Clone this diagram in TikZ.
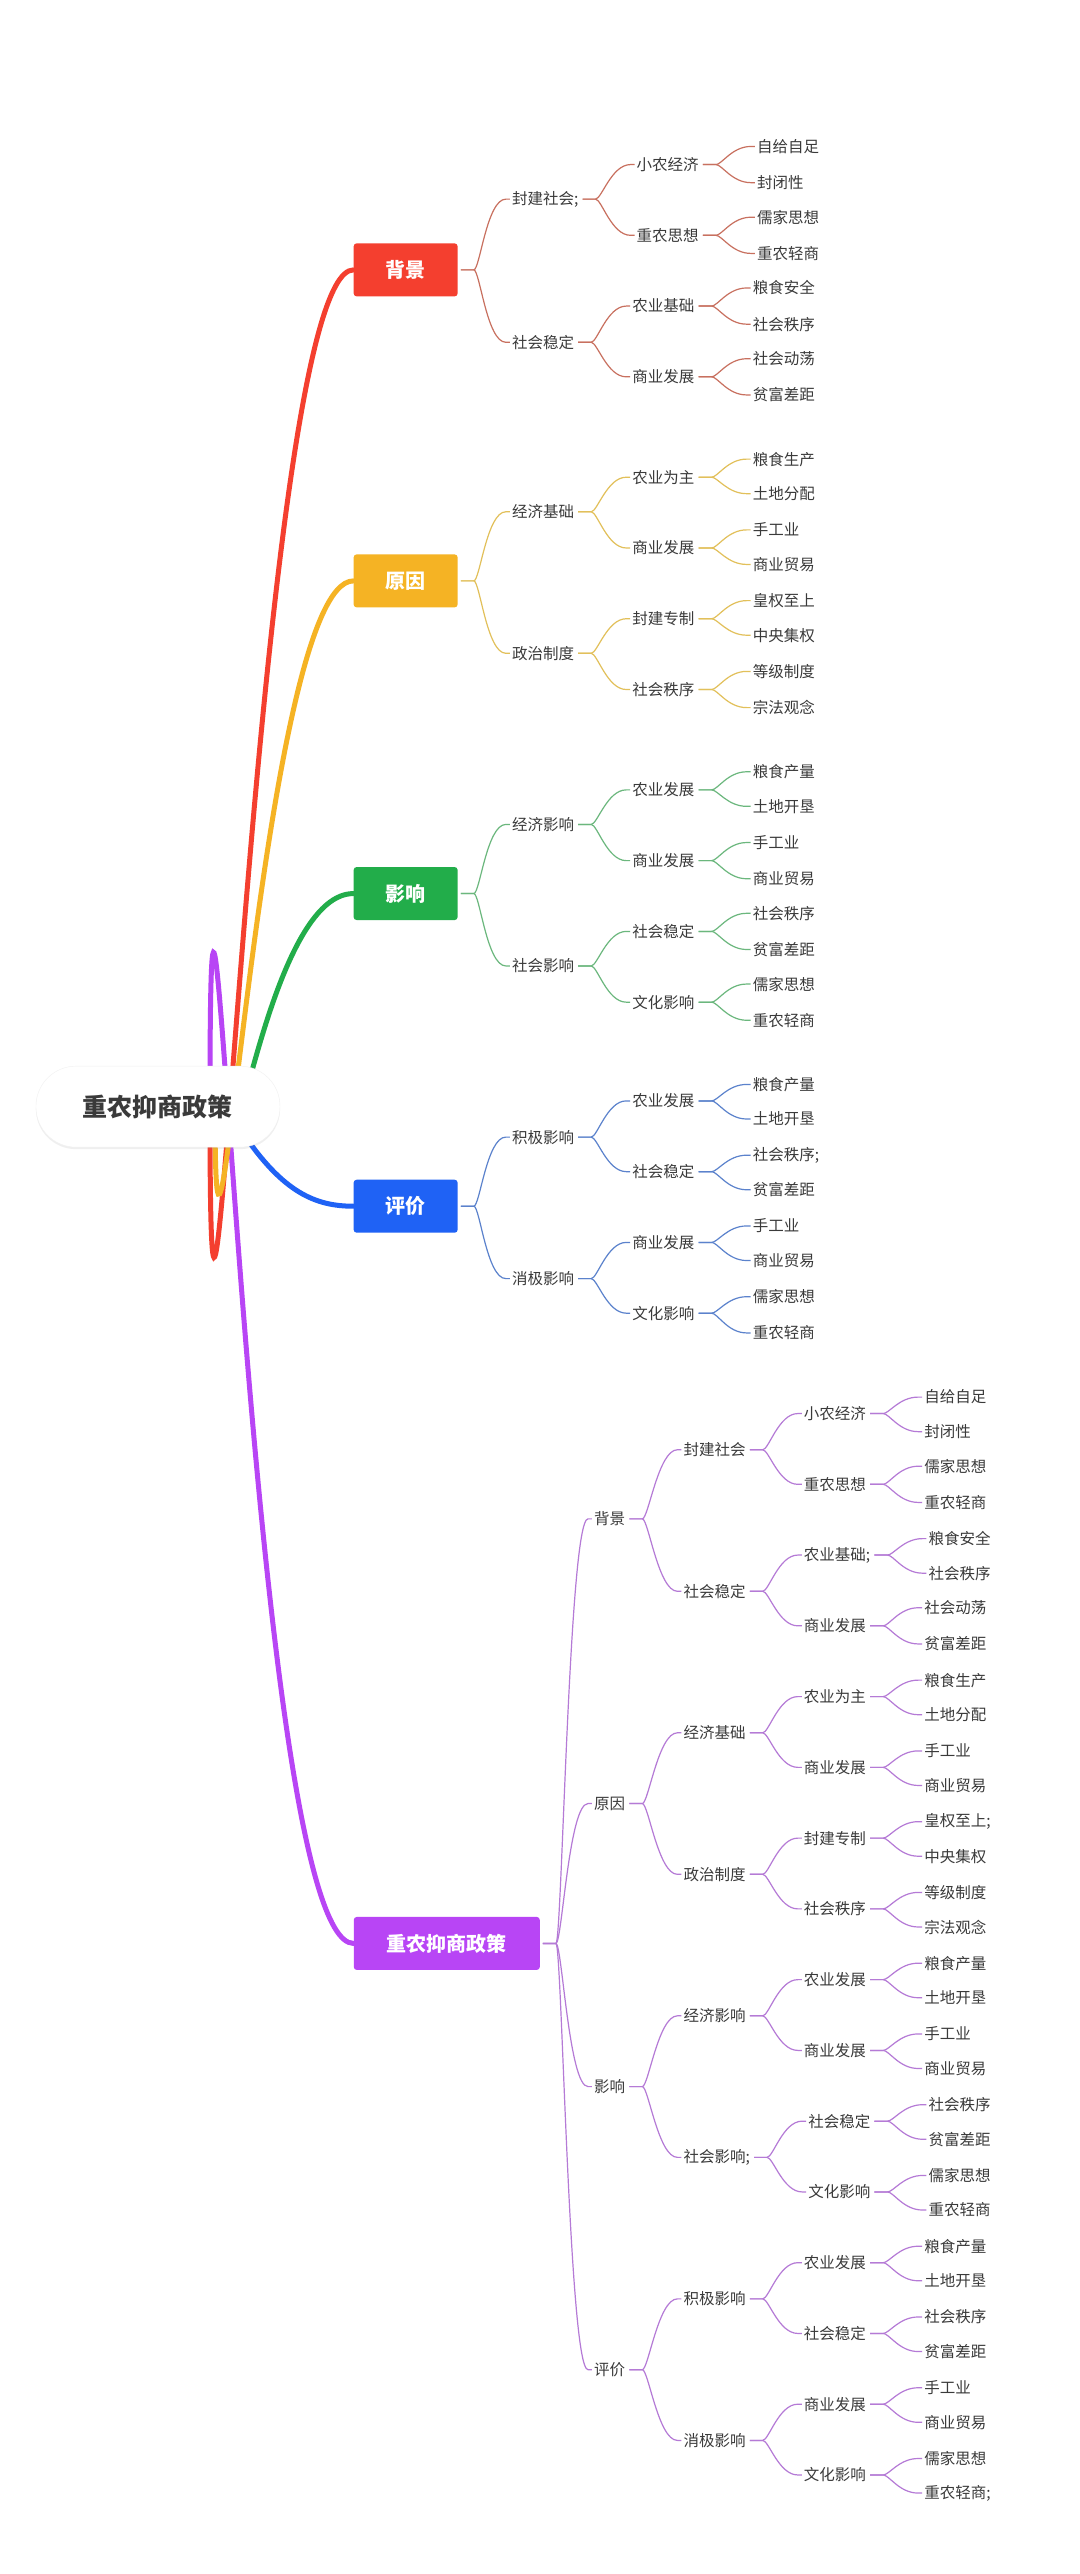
\documentclass[tikz,border=0pt]{standalone}
\usepackage{fontspec}
\setmainfont{Noto Sans CJK SC}
\usetikzlibrary{calc,backgrounds,shadows}
\definecolor{cR}{HTML}{F43F2F}
\definecolor{cY}{HTML}{F5B324}
\definecolor{cG}{HTML}{22AD4A}
\definecolor{cB}{HTML}{1F62F5}
\definecolor{cP}{HTML}{B845F5}
\definecolor{lR}{HTML}{C8705F}
\definecolor{lY}{HTML}{E2C05A}
\definecolor{lG}{HTML}{6BB77D}
\definecolor{lB}{HTML}{5B82CC}
\definecolor{lP}{HTML}{B57AD6}
\definecolor{txt}{HTML}{3A3A3A}
\colorlet{secline}{lR}
\tikzset{
  leaf/.style={inner sep=1pt,text=txt,font=\fontsize{15.5}{18}\selectfont},
  conn/.style={draw=secline,line width=1.2pt},
  mbox/.style={rounded corners=3pt,minimum height=53pt,text=white,font=\fontsize{20}{24}\selectfont\bfseries,inner sep=0pt},
  trunk/.style={line width=5pt,line cap=round},
}
\newcommand\kid[5]{%
  \coordinate (ty) at (0,#3);
  \path (#1.east) ++(#5,0) coordinate (tx);
  \node[leaf,anchor=west] (#2) at (tx |- ty) {#4};
  \draw[conn] let \p1=(#1.east),\p2=(#2.west) in (\x1+3pt,\y1) -- (\x1+16pt,\y1) .. controls (\x1+22pt,\y1) and (\x2-24pt,\y2) .. (\x2-5pt,\y2) -- (\x2-1pt,\y2);}
\newcommand\kk[4]{\kid{#1}{#2}{#3}{#4}{56pt}}
\newcommand\kb[4]{\kid{#1}{#2}{#3}{#4}{53pt}}
\begin{document}
\begin{tikzpicture}[x=1.6456pt,y=-1.6456pt]
\useasboundingbox (0,0) rectangle (656.3,1564.2);
\node[draw=gray!12,fill=white,rounded corners=40pt,minimum width=244pt,minimum height=81pt,text=txt,font=\fontsize{25}{30}\selectfont\bfseries,drop shadow={opacity=0.12,shadow xshift=0pt,shadow yshift=-2pt}] (root) at (96,672.5) {重农抑商政策};
\node[mbox,fill=cR,minimum width=104pt] (b1) at (246.5,164) {背景};
\node[mbox,fill=cY,minimum width=104pt] (b2) at (246.5,353) {原因};
\node[mbox,fill=cG,minimum width=104pt] (b3) at (246.5,543) {影响};
\node[mbox,fill=cB,minimum width=104pt] (b4) at (246.5,733) {评价};
\node[mbox,fill=cP,minimum width=186pt] (b5) at (271.5,1181) {重农抑商政策};
\begin{scope}[on background layer]
\fill[white] (0,0) rectangle (656.3,1564.2);
\draw[trunk,cP] ([xshift=52pt]root.center) .. controls +(0,-378) and (150,1181) .. (b5.west);
\draw[trunk,cR] ([xshift=52pt]root.center) .. controls +(0,372) and (155,164) .. (b1.west);
\draw[trunk,cY] ([xshift=57pt]root.center) .. controls +(0,222) and (158,353) .. (b2.west);
\draw[trunk,cG] ([xshift=68pt]root.center) .. controls +(0,92) and (160,543) .. (b3.west);
\draw[trunk,cB] ([xshift=84pt,yshift=-25pt]root.center) .. controls (172,725) and (192,733) .. (b4.west);
\end{scope}
% section 1
\colorlet{secline}{lR}
\kb{b1}{a1}{121}{封建社会;}
\kb{b1}{a2}{208}{社会稳定}
\kk{a1}{a11}{100}{小农经济}
\kk{a1}{a12}{143}{重农思想}
\kk{a2}{a21}{186}{农业基础}
\kk{a2}{a22}{229}{商业发展}
\kk{a11}{a111}{89}{自给自足}
\kk{a11}{a112}{111}{封闭性}
\kk{a12}{a121}{132}{儒家思想}
\kk{a12}{a122}{154}{重农轻商}
\kk{a21}{a211}{175}{粮食安全}
\kk{a21}{a212}{197}{社会秩序}
\kk{a22}{a221}{218}{社会动荡}
\kk{a22}{a222}{240}{贫富差距}
% section 2
\colorlet{secline}{lY}
\kb{b2}{c1}{311}{经济基础}
\kb{b2}{c2}{397}{政治制度}
\kk{c1}{c11}{290}{农业为主}
\kk{c1}{c12}{333}{商业发展}
\kk{c2}{c21}{376}{封建专制}
\kk{c2}{c22}{419}{社会秩序}
\kk{c11}{c111}{279}{粮食生产}
\kk{c11}{c112}{300}{土地分配}
\kk{c12}{c121}{322}{手工业}
\kk{c12}{c122}{343}{商业贸易}
\kk{c21}{c211}{365}{皇权至上}
\kk{c21}{c212}{386}{中央集权}
\kk{c22}{c221}{408}{等级制度}
\kk{c22}{c222}{430}{宗法观念}
% section 3
\colorlet{secline}{lG}
\kb{b3}{d1}{501}{经济影响}
\kb{b3}{d2}{587}{社会影响}
\kk{d1}{d11}{480}{农业发展}
\kk{d1}{d12}{523}{商业发展}
\kk{d2}{d21}{566}{社会稳定}
\kk{d2}{d22}{609}{文化影响}
\kk{d11}{d111}{469}{粮食产量}
\kk{d11}{d112}{490}{土地开垦}
\kk{d12}{d121}{512}{手工业}
\kk{d12}{d122}{534}{商业贸易}
\kk{d21}{d211}{555}{社会秩序}
\kk{d21}{d212}{577}{贫富差距}
\kk{d22}{d221}{598}{儒家思想}
\kk{d22}{d222}{620}{重农轻商}
% section 4
\colorlet{secline}{lB}
\kb{b4}{e1}{691}{积极影响}
\kb{b4}{e2}{777}{消极影响}
\kk{e1}{e11}{669}{农业发展}
\kk{e1}{e12}{712}{社会稳定}
\kk{e2}{e21}{755}{商业发展}
\kk{e2}{e22}{798}{文化影响}
\kk{e11}{e111}{659}{粮食产量}
\kk{e11}{e112}{680}{土地开垦}
\kk{e12}{e121}{702}{社会秩序;}
\kk{e12}{e122}{723}{贫富差距}
\kk{e21}{e211}{745}{手工业}
\kk{e21}{e212}{766}{商业贸易}
\kk{e22}{e221}{788}{儒家思想}
\kk{e22}{e222}{810}{重农轻商}
% section 5
\colorlet{secline}{lP}
\kb{b5}{f1}{923}{背景}
\kb{b5}{f2}{1096}{原因}
\kb{b5}{f3}{1268}{影响}
\kb{b5}{f4}{1440}{评价}
\kk{f1}{f11}{881}{封建社会}
\kk{f1}{f12}{967}{社会稳定}
\kk{f2}{f21}{1053}{经济基础}
\kk{f2}{f22}{1139}{政治制度}
\kk{f3}{f31}{1225}{经济影响}
\kk{f3}{f32}{1311}{社会影响;}
\kk{f4}{f41}{1397}{积极影响}
\kk{f4}{f42}{1483}{消极影响}
\kk{f11}{g1}{859}{小农经济}
\kk{f11}{g2}{902}{重农思想}
\kk{f12}{g3}{945}{农业基础;}
\kk{f12}{g4}{988}{商业发展}
\kk{f21}{g5}{1031}{农业为主}
\kk{f21}{g6}{1074}{商业发展}
\kk{f22}{g7}{1117}{封建专制}
\kk{f22}{g8}{1160}{社会秩序}
\kk{f31}{g9}{1203}{农业发展}
\kk{f31}{g10}{1246}{商业发展}
\kk{f32}{g11}{1289}{社会稳定}
\kk{f32}{g12}{1332}{文化影响}
\kk{f41}{g13}{1375}{农业发展}
\kk{f41}{g14}{1418}{社会稳定}
\kk{f42}{g15}{1461}{商业发展}
\kk{f42}{g16}{1504}{文化影响}
\kk{g1}{h1}{849}{自给自足}
\kk{g1}{h2}{870}{封闭性}
\kk{g2}{h3}{891}{儒家思想}
\kk{g2}{h4}{913}{重农轻商}
\kk{g3}{h5}{935}{粮食安全}
\kk{g3}{h6}{956}{社会秩序}
\kk{g4}{h7}{977}{社会动荡}
\kk{g4}{h8}{999}{贫富差距}
\kk{g5}{h9}{1021}{粮食生产}
\kk{g5}{h10}{1042}{土地分配}
\kk{g6}{h11}{1064}{手工业}
\kk{g6}{h12}{1085}{商业贸易}
\kk{g7}{h13}{1107}{皇权至上;}
\kk{g7}{h14}{1128}{中央集权}
\kk{g8}{h15}{1150}{等级制度}
\kk{g8}{h16}{1171}{宗法观念}
\kk{g9}{h17}{1193}{粮食产量}
\kk{g9}{h18}{1214}{土地开垦}
\kk{g10}{h19}{1236}{手工业}
\kk{g10}{h20}{1257}{商业贸易}
\kk{g11}{h21}{1279}{社会秩序}
\kk{g11}{h22}{1300}{贫富差距}
\kk{g12}{h23}{1322}{儒家思想}
\kk{g12}{h24}{1343}{重农轻商}
\kk{g13}{h25}{1365}{粮食产量}
\kk{g13}{h26}{1386}{土地开垦}
\kk{g14}{h27}{1408}{社会秩序}
\kk{g14}{h28}{1429}{贫富差距}
\kk{g15}{h29}{1451}{手工业}
\kk{g15}{h30}{1472}{商业贸易}
\kk{g16}{h31}{1494}{儒家思想}
\kk{g16}{h32}{1515}{重农轻商;}
\end{tikzpicture}
\end{document}
